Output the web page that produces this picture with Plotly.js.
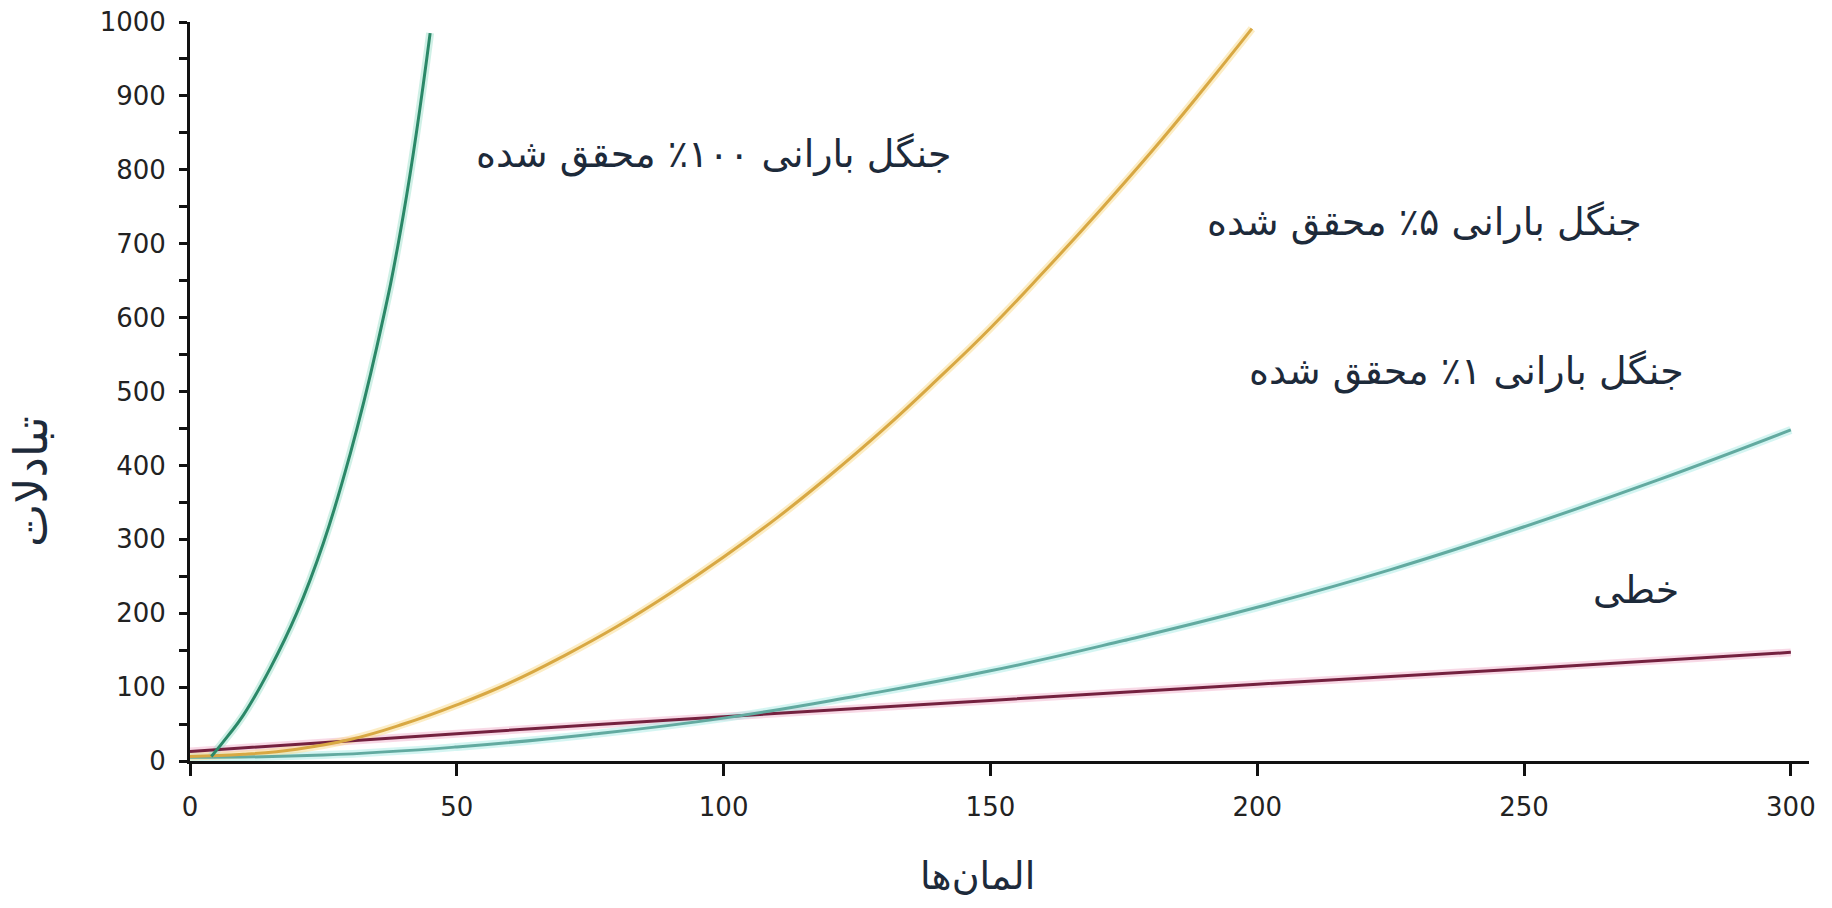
<!DOCTYPE html>
<html>
<head>
<meta charset="utf-8">
<script src="https://cdn.plot.ly/plotly-3.0.1.min.js"></script>
<style>html,body{margin:0;padding:0;background:#fff;}#chart{width:1832px;height:908px;}</style>
</head>
<body>
<div id="chart"></div>
<script>
// ---- data ----
const greenX  = [4, 7, 10, 15, 20, 25, 30, 35, 40, 45];
const greenY  = [6, 33, 62, 125, 200, 295, 415, 560, 740, 985];

const orangeX = [0, 10, 20, 30, 40, 50, 60, 70, 80, 90, 100, 110, 120, 130, 140, 150, 160, 170, 180, 190, 199];
const orangeY = [6, 9, 16, 29, 50, 76, 106, 142, 182, 227, 276, 329, 387, 449, 516, 586, 662, 741, 823, 910, 991];

const cyanX   = [0, 25, 50, 75, 100, 125, 150, 175, 200, 225, 250, 275, 300];
const cyanY   = [5, 8, 19, 36, 58, 88, 122, 163, 208, 259, 317, 380, 448];

const linX    = [0, 50, 100, 150, 200, 250, 300];
const linY    = [13, 37, 60, 82, 104, 125, 147];

const xTicks  = [0, 50, 100, 150, 200, 250, 300];
const yTicks  = [0, 50, 100, 150, 200, 250, 300, 350, 400, 450, 500, 550, 600, 650, 700, 750, 800, 850, 900, 950, 1000];
const yTickText = ['0', '', '100', '', '200', '', '300', '', '400', '', '500', '', '600', '', '700', '', '800', '', '900', '', '1000'];

const lbl100 = 'جنگل بارانی ۱۰۰٪ محقق شده';
const lbl5   = 'جنگل بارانی ۵٪ محقق شده';
const lbl1   = 'جنگل بارانی ۱٪ محقق شده';
const lblLin = 'خطی';
const xTitle = 'المان‌ها';
const yTitle = 'تبادلات';

// ---- traces ----
function halo(x, y, c) {
  return {x: x, y: y, mode: 'lines', line: {color: c, width: 8, shape: 'spline', smoothing: 1.3}, hoverinfo: 'skip', showlegend: false};
}
function main(x, y, c, name) {
  return {x: x, y: y, mode: 'lines', name: name, line: {color: c, width: 3, shape: 'spline', smoothing: 1.3}, showlegend: false};
}
const traces = [
  halo(linX, linY, 'rgba(240,170,200,0.45)'),
  halo(cyanX, cyanY, 'rgba(170,235,230,0.5)'),
  halo(orangeX, orangeY, 'rgba(250,220,140,0.5)'),
  halo(greenX, greenY, 'rgba(160,225,205,0.5)'),
  main(linX, linY, '#74213f', lblLin),
  main(cyanX, cyanY, '#62aaa0', lbl1),
  main(orangeX, orangeY, '#d8a843', lbl5),
  main(greenX, greenY, '#2b8868', lbl100)
];

const txtFont = {family: 'DejaVu Sans, Noto Sans, sans-serif', size: 38, color: '#1d2a3a'};
const tickFont = {family: 'DejaVu Sans, sans-serif', size: 26, color: '#222'};

const layout = {
  width: 1832, height: 908,
  margin: {l: 190, r: 23, t: 22, b: 147},
  paper_bgcolor: '#ffffff', plot_bgcolor: '#ffffff',
  showlegend: false,
  xaxis: {
    range: [0, 303.4], showgrid: false, zeroline: false,
    showline: true, linecolor: '#111', linewidth: 3,
    ticks: 'outside', ticklen: 12, tickwidth: 3, tickcolor: '#111',
    tickmode: 'array', tickvals: xTicks,
    tickfont: tickFont,
    ticklabelstandoff: 9
  },
  yaxis: {
    range: [0, 1000], showgrid: false, zeroline: false,
    showline: true, linecolor: '#111', linewidth: 3,
    ticks: 'outside', ticklen: 8, tickwidth: 3, tickcolor: '#111',
    tickmode: 'array', tickvals: yTicks, ticktext: yTickText,
    tickfont: tickFont,
    ticklabelstandoff: 8
  },
  annotations: [
    {text: lbl100, xref: 'paper', yref: 'paper', x: (714 - 190) / 1619, y: (761 - 155) / 739, xanchor: 'center', yanchor: 'middle', showarrow: false, font: txtFont},
    {text: lbl5, xref: 'paper', yref: 'paper', x: (1424 - 190) / 1619, y: (761 - 222) / 739, xanchor: 'center', yanchor: 'middle', showarrow: false, font: txtFont},
    {text: lbl1, xref: 'paper', yref: 'paper', x: (1466 - 190) / 1619, y: (761 - 371) / 739, xanchor: 'center', yanchor: 'middle', showarrow: false, font: txtFont},
    {text: lblLin, xref: 'paper', yref: 'paper', x: (1636 - 190) / 1619, y: (761 - 590) / 739, xanchor: 'center', yanchor: 'middle', showarrow: false, font: txtFont},
    {text: xTitle, xref: 'paper', yref: 'paper', x: (977 - 190) / 1619, y: (761 - 876) / 739, xanchor: 'center', yanchor: 'middle', showarrow: false, font: txtFont},
    {text: yTitle, xref: 'paper', yref: 'paper', x: (31 - 190) / 1619, y: (761 - 482) / 739, xanchor: 'center', yanchor: 'middle', textangle: -90, showarrow: false, font: {family: txtFont.family, size: 46, color: '#1d2a3a'}}
  ]
};

Plotly.newPlot('chart', traces, layout, {displayModeBar: false, staticPlot: true});
</script>
</body>
</html>
